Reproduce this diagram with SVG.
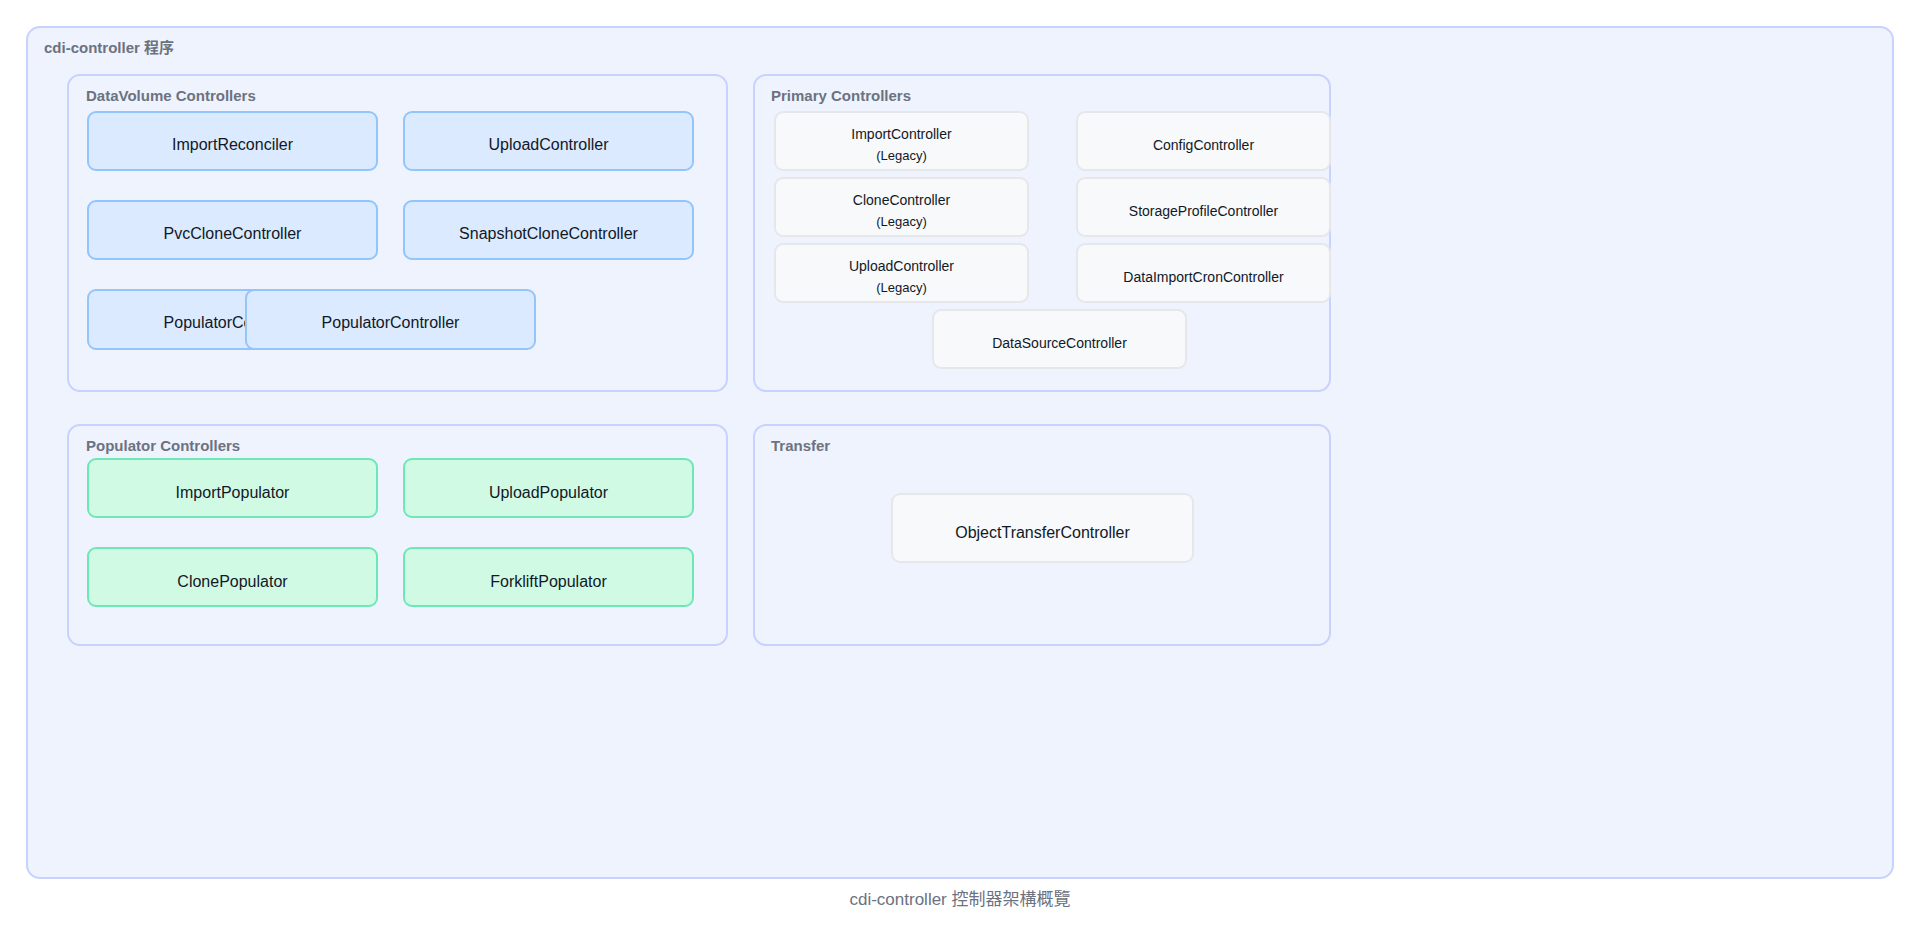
<svg xmlns="http://www.w3.org/2000/svg" width="1920" height="933" viewBox="0 0 1920 933">
  <style>
    text { font-family: "Liberation Sans", "Noto Sans CJK TC", sans-serif; }
    .outer { fill: #eff3fe; stroke: #c7d2fe; stroke-width: 2; }
    .group { fill: #eff3fe; stroke: #c7d2fe; stroke-width: 2; }
    .title { font-size: 15px; font-weight: 700; fill: #6b7280; }
    .caption { font-size: 17px; fill: #6b7280; text-anchor: middle; }
    .dv { fill: #dbeafe; stroke: #93c5fd; stroke-width: 2; }
    .pop { fill: #d1fae5; stroke: #6ee7b7; stroke-width: 2; }
    .gray { fill: #f8f9fb; stroke: #e5e7eb; stroke-width: 2; }
    .lbl { font-size: 16px; fill: #111827; text-anchor: middle; }
    .lbls { font-size: 14px; fill: #111827; text-anchor: middle; }
    .sub { font-size: 13px; fill: #111827; text-anchor: middle; }
  </style>

  <rect x="0" y="0" width="1920" height="933" fill="#ffffff"/>

  <g id="cdi-controller">
    <rect class="outer" x="27" y="27" width="1866" height="851" rx="13"/>
    <text class="title" x="44" y="53">cdi-controller 程序</text>
  </g>

  <g id="datavolume-controllers">
    <rect class="group" x="68" y="75" width="659" height="316" rx="12"/>
    <text class="title" x="86" y="101">DataVolume Controllers</text>
  </g>
  <g id="primary-controllers">
    <rect class="group" x="754" y="75" width="576" height="316" rx="12"/>
    <text class="title" x="771" y="101">Primary Controllers</text>
  </g>
  <g id="populator-controllers">
    <rect class="group" x="68" y="425" width="659" height="220" rx="12"/>
    <text class="title" x="86" y="451">Populator Controllers</text>
  </g>
  <g id="transfer">
    <rect class="group" x="754" y="425" width="576" height="220" rx="12"/>
    <text class="title" x="771" y="451">Transfer</text>
  </g>

  <g id="connectors"></g>

  <g id="ImportReconciler">
    <rect class="dv" x="88" y="112" width="289" height="58" rx="8"/>
    <text class="lbl" x="232.5" y="150">ImportReconciler</text>
  </g>
  <g id="UploadController-dv">
    <rect class="dv" x="404" y="112" width="289" height="58" rx="8"/>
    <text class="lbl" x="548.5" y="150">UploadController</text>
  </g>
  <g id="PvcCloneController">
    <rect class="dv" x="88" y="201" width="289" height="58" rx="8"/>
    <text class="lbl" x="232.5" y="239">PvcCloneController</text>
  </g>
  <g id="SnapshotCloneController">
    <rect class="dv" x="404" y="201" width="289" height="58" rx="8"/>
    <text class="lbl" x="548.5" y="239">SnapshotCloneController</text>
  </g>
  <g id="PopulatorController-a">
    <rect class="dv" x="88" y="290" width="289" height="59" rx="8"/>
    <text class="lbl" x="232.5" y="328">PopulatorController</text>
  </g>
  <g id="PopulatorController-b">
    <rect class="dv" x="246" y="290" width="289" height="59" rx="8"/>
    <text class="lbl" x="390.5" y="328">PopulatorController</text>
  </g>

  <g id="ImportController">
    <rect class="gray" x="775" y="112" width="253" height="58" rx="8"/>
    <text class="lbls" x="901.5" y="138.5">ImportController</text>
    <text class="sub" x="901.5" y="160">(Legacy)</text>
  </g>
  <g id="CloneController">
    <rect class="gray" x="775" y="178" width="253" height="58" rx="8"/>
    <text class="lbls" x="901.5" y="204.5">CloneController</text>
    <text class="sub" x="901.5" y="226">(Legacy)</text>
  </g>
  <g id="UploadController-legacy">
    <rect class="gray" x="775" y="244" width="253" height="58" rx="8"/>
    <text class="lbls" x="901.5" y="270.5">UploadController</text>
    <text class="sub" x="901.5" y="292">(Legacy)</text>
  </g>
  <g id="ConfigController">
    <rect class="gray" x="1077" y="112" width="253" height="58" rx="8"/>
    <text class="lbls" x="1203.5" y="149.5">ConfigController</text>
  </g>
  <g id="StorageProfileController">
    <rect class="gray" x="1077" y="178" width="253" height="58" rx="8"/>
    <text class="lbls" x="1203.5" y="215.5">StorageProfileController</text>
  </g>
  <g id="DataImportCronController">
    <rect class="gray" x="1077" y="244" width="253" height="58" rx="8"/>
    <text class="lbls" x="1203.5" y="281.5">DataImportCronController</text>
  </g>
  <g id="DataSourceController">
    <rect class="gray" x="933" y="310" width="253" height="58" rx="8"/>
    <text class="lbls" x="1059.5" y="348">DataSourceController</text>
  </g>

  <g id="ImportPopulator">
    <rect class="pop" x="88" y="459" width="289" height="58" rx="8"/>
    <text class="lbl" x="232.5" y="497.5">ImportPopulator</text>
  </g>
  <g id="UploadPopulator">
    <rect class="pop" x="404" y="459" width="289" height="58" rx="8"/>
    <text class="lbl" x="548.5" y="497.5">UploadPopulator</text>
  </g>
  <g id="ClonePopulator">
    <rect class="pop" x="88" y="548" width="289" height="58" rx="8"/>
    <text class="lbl" x="232.5" y="586.5">ClonePopulator</text>
  </g>
  <g id="ForkliftPopulator">
    <rect class="pop" x="404" y="548" width="289" height="58" rx="8"/>
    <text class="lbl" x="548.5" y="586.5">ForkliftPopulator</text>
  </g>

  <g id="ObjectTransferController">
    <rect class="gray" x="892" y="494" width="301" height="68" rx="8"/>
    <text class="lbl" x="1042.5" y="537.5">ObjectTransferController</text>
  </g>

  <text class="caption" x="960" y="905">cdi-controller 控制器架構概覽</text>
</svg>
